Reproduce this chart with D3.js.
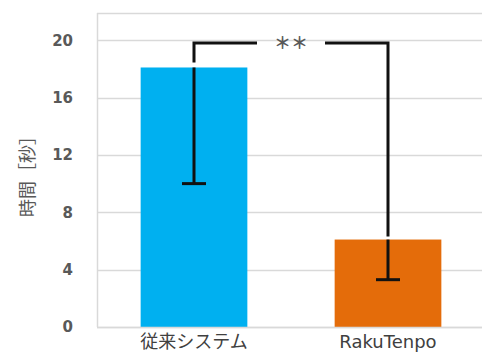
<!DOCTYPE html>
<html>
<head>
<meta charset="utf-8">
<script src="https://cdn.jsdelivr.net/npm/d3@7"></script>
<style>
  html, body { margin: 0; padding: 0; background: #fff; }
  svg { display: block; }
</style>
</head>
<body>
<div id="chart"></div>
<script>
// chart values
var categories = ['従来システム', 'RakuTenpo'];
var means = [18.1, 6.1];
var errMinus = [8.1, 2.8];
var barColors = ['#00B0F0', '#E46C0A'];
var yTicks = [0, 4, 8, 12, 16, 20];
var yTitle = '時間［秒］';
var sigLabel = '＊＊';
var sigLevel = 19.8;

var W = 482, H = 358;
var m = { left: 97, right: -3, top: 13, bottom: 31 };
var font = "'DejaVu Sans', 'Noto Sans CJK JP', sans-serif";

var svg = d3.select('#chart').append('svg')
  .attr('width', W).attr('height', H);

var x = d3.scaleBand()
  .domain(categories)
  .range([m.left, W - m.right])
  .paddingInner(0.45)
  .paddingOuter(0.225);

var y = d3.scaleLinear()
  .domain([0, 21.9])
  .range([H - m.bottom, m.top]);

// gridlines
svg.append('g')
  .selectAll('line')
  .data(yTicks.concat([21.9]))
  .enter().append('line')
  .attr('x1', m.left).attr('x2', W)
  .attr('y1', function(d) { return Math.round(y(d)) + 0.5; })
  .attr('y2', function(d) { return Math.round(y(d)) + 0.5; })
  .attr('stroke', '#d9d9d9')
  .attr('stroke-width', 1.5);

// y axis line
svg.append('line')
  .attr('x1', m.left + 0.5).attr('x2', m.left + 0.5)
  .attr('y1', y(21.9)).attr('y2', y(0))
  .attr('stroke', '#d9d9d9').attr('stroke-width', 1.5);

// y tick labels
var yAxis = svg.append('g')
  .attr('transform', 'translate(' + (m.left - 24) + ',0)')
  .call(d3.axisLeft(y).tickValues(yTicks).tickSize(0).tickPadding(0));
yAxis.select('.domain').remove();
yAxis.selectAll('text')
  .attr('font-family', font)
  .attr('font-size', '15px')
  .attr('font-weight', 'bold')
  .attr('fill', '#595959');

// y title
svg.append('text')
  .attr('transform', 'translate(28,' + 172 + ') rotate(-90)')
  .attr('text-anchor', 'middle')
  .attr('dy', '0.35em')
  .attr('font-family', "'Noto Sans CJK JP', sans-serif")
  .attr('font-size', '18px')
  .attr('fill', '#595959')
  .text(yTitle);

// bars
svg.append('g')
  .selectAll('rect')
  .data(categories)
  .enter().append('rect')
  .attr('x', function(d) { return x(d); })
  .attr('width', x.bandwidth())
  .attr('y', function(d, i) { return y(means[i]); })
  .attr('height', function(d, i) { return y(0) - y(means[i]); })
  .attr('fill', function(d, i) { return barColors[i]; });

// bottom axis line
svg.append('line')
  .attr('x1', m.left).attr('x2', W)
  .attr('y1', y(0) + 0.5).attr('y2', y(0) + 0.5)
  .attr('stroke', '#d9d9d9').attr('stroke-width', 1.5);

// x labels
var xAxis = svg.append('g')
  .attr('transform', 'translate(0,' + (y(0) + 8) + ')')
  .call(d3.axisBottom(x).tickSize(0).tickPadding(0));
xAxis.select('.domain').remove();
xAxis.selectAll('text')
  .attr('font-family', font)
  .attr('font-size', '18px')
  .attr('fill', '#404040');

// error bars (minus only)
var err = svg.append('g')
  .attr('stroke', '#111')
  .attr('stroke-width', 3);
categories.forEach(function(c, i) {
  var cx = x(c) + x.bandwidth() / 2;
  err.append('line')
    .attr('x1', cx).attr('x2', cx)
    .attr('y1', y(means[i])).attr('y2', y(means[i] - errMinus[i]));
  err.append('line')
    .attr('x1', cx - 12).attr('x2', cx + 12)
    .attr('y1', y(means[i] - errMinus[i])).attr('y2', y(means[i] - errMinus[i]));
});

// significance bracket
var x1 = x(categories[0]) + x.bandwidth() / 2;
var x2 = x(categories[1]) + x.bandwidth() / 2;
var xm = (x1 + x2) / 2;
var ys = y(sigLevel);
var gap = 34;
var bracket = svg.append('g')
  .attr('fill', 'none')
  .attr('stroke', '#111')
  .attr('stroke-width', 3);
bracket.append('path')
  .attr('d', 'M' + x1 + ',' + (y(means[0]) - 5) + 'V' + ys + 'H' + (xm - gap));
bracket.append('path')
  .attr('d', 'M' + (xm + gap) + ',' + ys + 'H' + x2 + 'V' + (y(means[1]) - 3));
svg.append('text')
  .attr('x', xm).attr('y', ys)
  .attr('dy', '0.35em')
  .attr('text-anchor', 'middle')
  .attr('font-family', "'Noto Sans CJK JP', sans-serif")
  .attr('font-size', '17px')
  .attr('font-weight', 'bold')
  .attr('fill', '#595959')
  .text(sigLabel);
</script>
</body>
</html>
